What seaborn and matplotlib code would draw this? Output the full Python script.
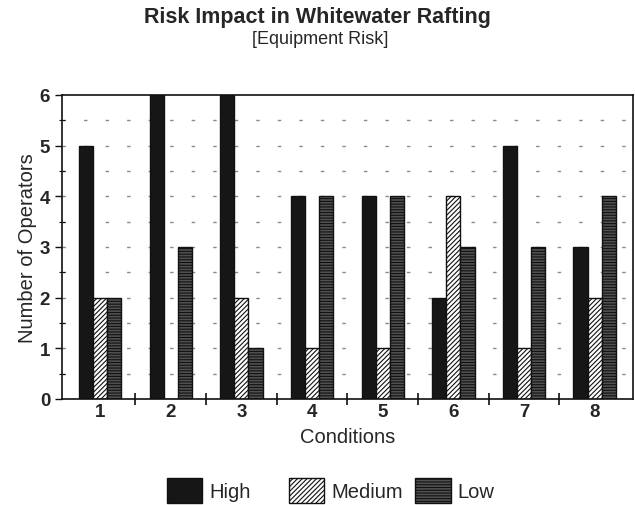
import matplotlib
matplotlib.use("Agg")
import matplotlib.pyplot as plt
from matplotlib.patches import Patch
from matplotlib.ticker import MultipleLocator, FixedLocator
import seaborn as sns
import pandas as pd
import numpy as np

conditions = ["1", "2", "3", "4", "5", "6", "7", "8"]
high = [5, 6, 6, 4, 4, 2, 5, 3]
medium = [2, 0, 2, 1, 1, 4, 1, 2]
low = [2, 3, 1, 4, 4, 3, 3, 4]
series = ["High", "Medium", "Low"]

df = pd.DataFrame({
    "Conditions": conditions * 3,
    "Count": high + medium + low,
    "Risk": ["High"] * 8 + ["Medium"] * 8 + ["Low"] * 8,
})

sns.set_theme(style="white")
plt.rcParams["font.family"] = ["Liberation Sans", "DejaVu Sans"]
plt.rcParams["hatch.linewidth"] = 0.8

colors = {"High": "#161616", "Medium": "#ffffff", "Low": "#505050"}
hatches = {"High": "", "Medium": "///////", "Low": "------"}

fig = plt.figure(figsize=(6.35, 5.06), dpi=100)
ax = fig.add_axes([0.0976, 0.2095, 0.899, 0.6008])

sns.barplot(data=df, x="Conditions", y="Count", hue="Risk", hue_order=series,
            palette=colors, width=0.6, dodge=True, legend=False, ax=ax,
            edgecolor="#111111", linewidth=1.0, saturation=1)

for cont, name in zip(ax.containers, series):
    for bar in cont:
        bar.set_hatch(hatches[name])
        bar.set_edgecolor("#111111")

# dotted grid at 0.5 steps
for yv in np.arange(0.5, 6.0, 0.5):
    ax.axhline(yv, color="#8a8a8a", lw=1.0, ls=(0, (2.5, 13)), zorder=0)

ax.set_ylim(0, 6)
ax.set_xlim(-0.54, 7.54)
ax.yaxis.set_major_locator(MultipleLocator(1))
ax.yaxis.set_minor_locator(MultipleLocator(0.5))
ax.xaxis.set_minor_locator(FixedLocator(np.arange(0.5, 7.5, 1.0)))
ax.tick_params(axis="y", which="major", direction="out", length=5, width=1, labelsize=13.5, left=True, color="#111111")
ax.tick_params(axis="y", which="minor", direction="inout", length=4, width=0.8, left=True, color="#111111")
ax.tick_params(axis="x", which="major", length=0, labelsize=13.5, pad=3)
ax.tick_params(axis="x", which="minor", direction="inout", length=8, width=1.2, bottom=True, color="#111111")
for lab in ax.get_xticklabels() + ax.get_yticklabels():
    lab.set_fontweight("bold")

for s in ax.spines.values():
    s.set_visible(True)
    s.set_color("#111111")
    s.set_linewidth(1.2)

ax.set_xlabel("Conditions", fontsize=14.5)
ax.set_ylabel("Number of Operators", fontsize=14.5)
ax.xaxis.set_label_coords(0.5, -0.125)
ax.xaxis.label.set_va("center")
ax.yaxis.set_label_coords(-0.06, 0.5)
ax.yaxis.label.set_va("center")

fig.text(0.5, 0.966, "Risk Impact in Whitewater Rafting", ha="center", va="center",
         fontsize=15.5, fontweight="bold")
fig.text(0.505, 0.921, "[Equipment Risk]", ha="center", va="center", fontsize=13)

legend_x = [0.263, 0.455, 0.654]
for n, lx in zip(series, legend_x):
    h = Patch(facecolor=colors[n], hatch=hatches[n], edgecolor="#111111", label=n)
    fig.legend(handles=[h], loc="center left", bbox_to_anchor=(lx, 0.028),
               frameon=False, fontsize=14.5, handlelength=1.75, handleheight=1.55,
               handletextpad=0.35, borderpad=0, borderaxespad=0)

fig.savefig("out.png", dpi=100)
